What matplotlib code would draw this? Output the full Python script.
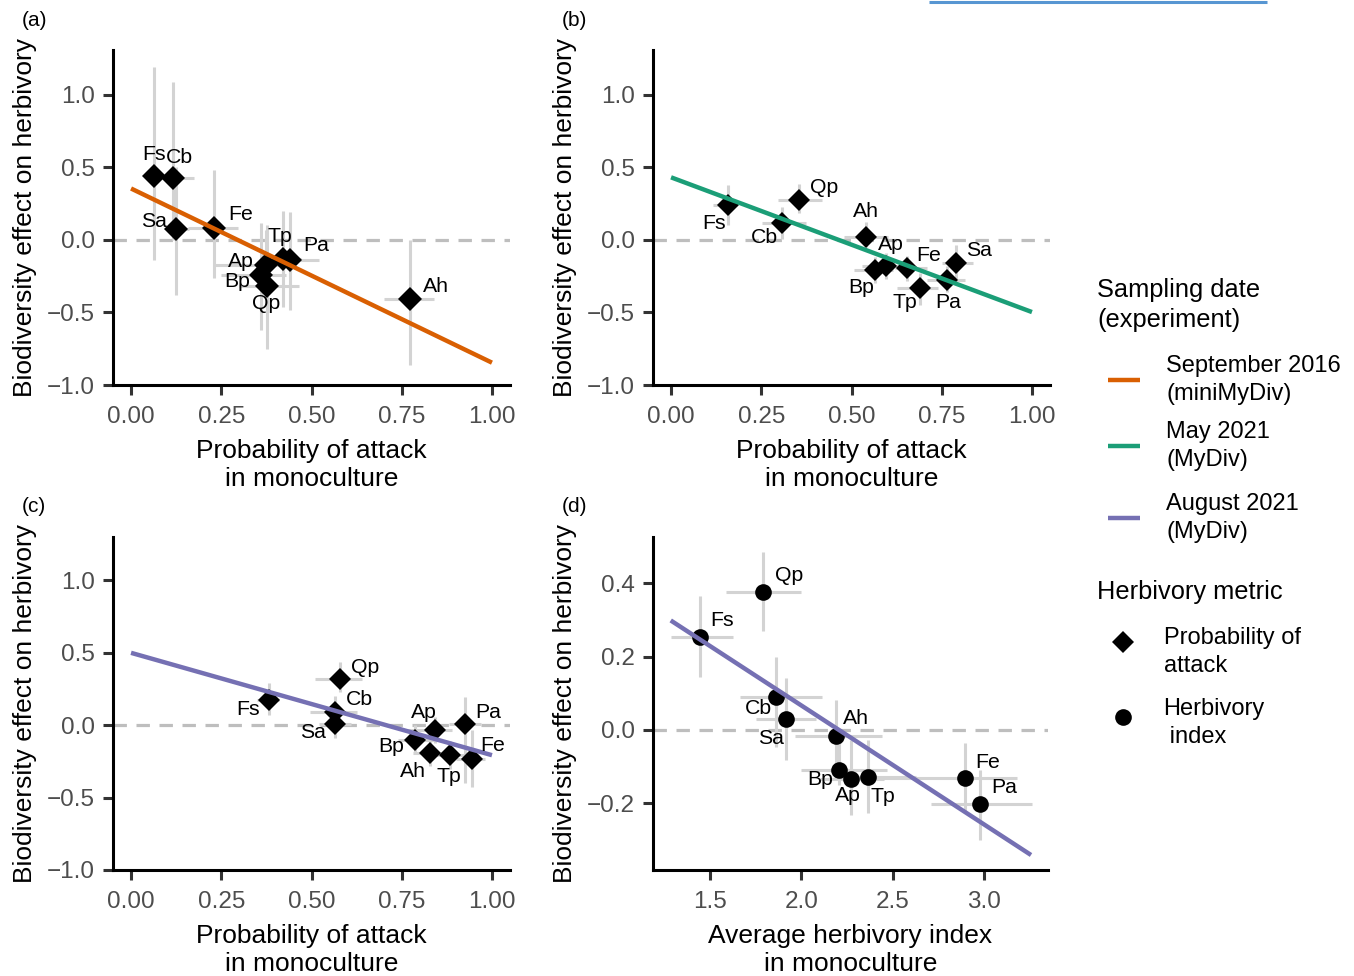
import matplotlib.pyplot as plt

plt.rcParams['font.family'] = ['Liberation Sans', 'DejaVu Sans']

W, H = 1354, 976

# (a) September 2016, probability of attack
sp_a = ["Fs", "Cb", "Sa", "Fe", "Tp", "Pa", "Ap", "Bp", "Qp", "Ah"]
x_a = [0.064, 0.115, 0.124, 0.23, 0.42, 0.44, 0.373, 0.36, 0.378, 0.773]
y_a = [0.443, 0.425, 0.076, 0.08, -0.13, -0.14, -0.17, -0.24, -0.32, -0.41]
xlo_a = [0.04, 0.09, 0.10, 0.157, 0.39, 0.41, 0.23, 0.25, 0.30, 0.70]
xhi_a = [0.09, 0.175, 0.16, 0.295, 0.47, 0.52, 0.43, 0.43, 0.465, 0.84]
ylo_a = [-0.14, 0.0, -0.38, -0.26, -0.46, -0.48, -0.45, -0.62, -0.75, -0.86]
yhi_a = [1.19, 1.09, 0.5, 0.48, 0.2, 0.19, 0.07, 0.12, 0.1, 0.0]
labx_a = [0.064, 0.133, 0.064, 0.304, 0.412, 0.514, 0.304, 0.293, 0.373, 0.845]
laby_a = [0.586, 0.572, 0.124, 0.179, 0.021, -0.041, -0.145, -0.283, -0.441, -0.324]
fitx_a = [0.0, 1.0]
fity_a = [0.355, -0.846]

# (b) May 2021, probability of attack
sp_b = ["Fs", "Qp", "Cb", "Ah", "Bp", "Ap", "Fe", "Tp", "Pa", "Sa"]
x_b = [0.157, 0.355, 0.308, 0.541, 0.565, 0.595, 0.654, 0.691, 0.764, 0.789]
y_b = [0.241, 0.276, 0.12, 0.018, -0.21, -0.18, -0.195, -0.329, -0.276, -0.161]
xlo_b = [0.115, 0.295, 0.253, 0.48, 0.506, 0.53, 0.62, 0.626, 0.71, 0.75]
xhi_b = [0.184, 0.419, 0.373, 0.60, 0.616, 0.64, 0.71, 0.74, 0.815, 0.837]
ylo_b = [0.10, 0.186, 0.01, -0.046, -0.3, -0.27, -0.28, -0.45, -0.36, -0.276]
yhi_b = [0.38, 0.386, 0.23, 0.126, -0.12, -0.09, -0.11, -0.23, -0.18, -0.034]
labx_b = [0.119, 0.425, 0.26, 0.539, 0.528, 0.608, 0.715, 0.649, 0.768, 0.854]
laby_b = [0.117, 0.359, 0.014, 0.193, -0.331, -0.034, -0.11, -0.428, -0.434, -0.076]
fitx_b = [0.0, 1.0]
fity_b = [0.432, -0.497]

# (c) August 2021, probability of attack
sp_c = ["Fs", "Qp", "Cb", "Sa", "Ap", "Pa", "Bp", "Ah", "Tp", "Fe"]
x_c = [0.382, 0.58, 0.566, 0.566, 0.843, 0.925, 0.787, 0.829, 0.884, 0.944]
y_c = [0.177, 0.317, 0.092, 0.011, -0.03, 0.011, -0.103, -0.19, -0.207, -0.23]
xlo_c = [0.35, 0.51, 0.497, 0.52, 0.76, 0.88, 0.74, 0.78, 0.84, 0.90]
xhi_c = [0.41, 0.64, 0.627, 0.61, 0.89, 0.97, 0.84, 0.88, 0.93, 0.98]
ylo_c = [0.069, 0.23, -0.01, -0.09, -0.12, -0.4, -0.2, -0.28, -0.3, -0.425]
yhi_c = [0.29, 0.437, 0.2, 0.1, 0.06, 0.195, 0.0, -0.1, -0.11, -0.03]
labx_c = [0.323, 0.649, 0.633, 0.503, 0.812, 0.989, 0.721, 0.782, 0.881, 1.003]
laby_c = [0.11, 0.4, 0.179, -0.048, 0.09, 0.09, -0.145, -0.317, -0.352, -0.138]
fitx_c = [0.0, 1.0]
fity_c = [0.50, -0.207]

# (d) August 2021, herbivory index
sp_d = ["Qp", "Fs", "Cb", "Sa", "Ah", "Bp", "Ap", "Tp", "Fe", "Pa"]
x_d = [1.788, 1.445, 1.861, 1.916, 2.19, 2.208, 2.27, 2.367, 2.896, 2.978]
y_d = [0.378, 0.253, 0.091, 0.030, -0.018, -0.109, -0.134, -0.128, -0.132, -0.203]
xlo_d = [1.588, 1.285, 1.664, 1.75, 1.965, 2.0, 2.1, 2.28, 2.39, 2.71]
xhi_d = [1.997, 1.628, 2.111, 2.08, 2.44, 2.467, 2.45, 2.63, 3.18, 3.26]
ylo_d = [0.271, 0.144, -0.046, -0.082, -0.137, -0.15, -0.232, -0.226, -0.228, -0.30]
yhi_d = [0.487, 0.366, 0.199, 0.141, 0.082, -0.03, -0.027, -0.027, -0.036, -0.11]
labx_d = [1.932, 1.566, 1.763, 1.834, 2.299, 2.102, 2.255, 2.447, 3.022, 3.109]
laby_d = [0.421, 0.298, 0.057, -0.025, 0.03, -0.137, -0.18, -0.183, -0.09, -0.158]
fitx_d = [1.285, 3.257]
fity_d = [0.299, -0.342]

prob_ticks = [0.0, 0.25, 0.5, 0.75, 1.0]
prob_ticklabels = ["0.00", "0.25", "0.50", "0.75", "1.00"]
effect_ticks = [-1.0, -0.5, 0.0, 0.5, 1.0]
effect_ticklabels = ["\u22121.0", "\u22120.5", "0.0", "0.5", "1.0"]
index_ticks = [1.5, 2.0, 2.5, 3.0]
index_ticklabels = ["1.5", "2.0", "2.5", "3.0"]
index_effect_ticks = [-0.2, 0.0, 0.2, 0.4]
index_effect_ticklabels = ["\u22120.2", "0.0", "0.2", "0.4"]

ORANGE = "#D95F02"
GREEN = "#1B9E77"
PURPLE = "#7570B3"
BAR = "#d3d3d3"


def px_rect(l, t, r, b):
    return [l / W, 1 - b / H, (r - l) / W, (b - t) / H]


def draw_panel(ax, sp, x, y, xlo, xhi, ylo, yhi, labx, laby, fitx, fity,
               color, marker, ms):
    ax.axhline(0, color="#bebebe", lw=2.3, ls=(0, (4.2, 3.0)), zorder=1)
    ax.hlines(y, xlo, xhi, color=BAR, lw=2.2, zorder=2)
    ax.vlines(x, ylo, yhi, color=BAR, lw=2.2, zorder=2)
    ax.plot(x, y, ls="none", marker=marker, ms=ms, mew=0, color="black", zorder=3)
    ax.plot(fitx, fity, color=color, lw=3.2, solid_capstyle="butt", zorder=4)
    for s, tx, ty in zip(sp, labx, laby):
        ax.text(tx, ty, s, ha="center", va="center", fontsize=15.3, zorder=5)


def style_axes(ax, xlabel):
    for side in ["top", "right"]:
        ax.spines[side].set_visible(False)
    for side in ["left", "bottom"]:
        ax.spines[side].set_linewidth(2.2)
        ax.spines[side].set_color("black")
    ax.tick_params(length=7, width=2.2, color="#333333", labelcolor="#4d4d4d",
                   labelsize=17.5, pad=6)
    ax.tick_params(axis="x", pad=8)
    ax.set_xlabel(xlabel, fontsize=19, linespacing=1.2, labelpad=8)
    ax.set_ylabel("Biodiversity effect on herbivory", fontsize=19, labelpad=7)
    ax.set_facecolor("none")


fig = plt.figure(figsize=(W / 100, H / 100), dpi=100)

# full-figure axis in pixel units for legends and panel tags
lax = fig.add_axes([0, 0, 1, 1], zorder=0)
lax.set_xlim(0, W)
lax.set_ylim(H, 0)
lax.axis("off")

prob_label = "Probability of attack\nin monoculture"

ax_a = fig.add_axes(px_rect(113, 50, 510, 385), zorder=1)
draw_panel(ax_a, sp_a, x_a, y_a, xlo_a, xhi_a, ylo_a, yhi_a, labx_a, laby_a,
           fitx_a, fity_a, ORANGE, "D", 12)
ax_a.set_xlim(-0.05, 1.05)
ax_a.set_ylim(-1.0, 1.31)
ax_a.set_xticks(prob_ticks, prob_ticklabels)
ax_a.set_yticks(effect_ticks, effect_ticklabels)
style_axes(ax_a, prob_label)

ax_b = fig.add_axes(px_rect(653, 50, 1050, 385), zorder=1)
draw_panel(ax_b, sp_b, x_b, y_b, xlo_b, xhi_b, ylo_b, yhi_b, labx_b, laby_b,
           fitx_b, fity_b, GREEN, "D", 11.5)
ax_b.set_xlim(-0.05, 1.05)
ax_b.set_ylim(-1.0, 1.31)
ax_b.set_xticks(prob_ticks, prob_ticklabels)
ax_b.set_yticks(effect_ticks, effect_ticklabels)
style_axes(ax_b, prob_label)

ax_c = fig.add_axes(px_rect(113, 537, 510, 870), zorder=1)
draw_panel(ax_c, sp_c, x_c, y_c, xlo_c, xhi_c, ylo_c, yhi_c, labx_c, laby_c,
           fitx_c, fity_c, PURPLE, "D", 11.5)
ax_c.set_xlim(-0.05, 1.05)
ax_c.set_ylim(-1.0, 1.3)
ax_c.set_xticks(prob_ticks, prob_ticklabels)
ax_c.set_yticks(effect_ticks, effect_ticklabels)
style_axes(ax_c, prob_label)

ax_d = fig.add_axes(px_rect(653, 537, 1048, 870), zorder=1)
draw_panel(ax_d, sp_d, x_d, y_d, xlo_d, xhi_d, ylo_d, yhi_d, labx_d, laby_d,
           fitx_d, fity_d, PURPLE, "o", 12)
ax_d.set_xlim(1.188, 3.35)
ax_d.set_ylim(-0.383, 0.527)
ax_d.set_xticks(index_ticks, index_ticklabels)
ax_d.set_yticks(index_effect_ticks, index_effect_ticklabels)
style_axes(ax_d, "Average herbivory index\nin monoculture")

# panel tags
for tag, tx, ty in [("(a)", 22, 20), ("(b)", 562, 20), ("(c)", 22, 506), ("(d)", 562, 506)]:
    lax.text(tx, ty, tag, fontsize=15, ha="left", va="center")

# legend: sampling date
lax.text(1097, 305, "Sampling date\n(experiment)", fontsize=18.3, ha="left",
         va="center", linespacing=1.3)
legend_lines = [(ORANGE, 380, "September 2016\n(miniMyDiv)"),
                (GREEN, 446, "May 2021\n(MyDiv)"),
                (PURPLE, 518, "August 2021\n(MyDiv)")]
for col, ly, txt in legend_lines:
    lax.plot([1108, 1140], [ly, ly], color=col, lw=3.2, solid_capstyle="butt")
    lax.text(1166, ly, txt, fontsize=17, ha="left", va="center", linespacing=1.3)

# legend: herbivory metric
lax.text(1097, 592, "Herbivory metric", fontsize=18.3, ha="left", va="center")
lax.plot([1123], [642], ls="none", marker="D", ms=11.5, mew=0, color="black")
lax.text(1164, 652, "Probability of\nattack", fontsize=17, ha="left",
         va="center", linespacing=1.3)
lax.plot([1123], [717], ls="none", marker="o", ms=12, mew=0, color="black")
lax.text(1163, 723, "Herbivory\n index", fontsize=17, ha="left",
         va="center", linespacing=1.3)

# thin blue bar at the top edge
lax.plot([929, 1267], [1.5, 1.5], color="#5796d2", lw=2.2, clip_on=False,
         solid_capstyle="butt")

fig.savefig("out.png", dpi=100)
